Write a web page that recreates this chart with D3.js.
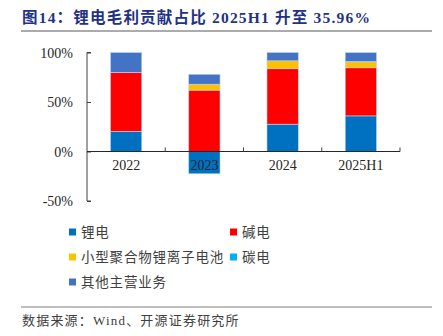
<!DOCTYPE html>
<html>
<head>
<meta charset="utf-8">
<script src="https://cdn.jsdelivr.net/npm/d3@7"></script>
<style>
  body { margin: 0; background: #fff; }
  svg { display: block; }
</style>
</head>
<body>
<svg id="chart"></svg>
<script>
// categories and series
const years = ["2022", "2023", "2024", "2025H1"];
const seriesNames = ["锂电", "碱电", "小型聚合物锂离子电池", "碳电", "其他主营业务"];
const seriesColors = ["#0070C0", "#FF0000", "#FFC000", "#00B0F0", "#4472C4"];

const lithium = [20.2, -22.5, 27.6, 35.96];
const alkaline = [59.8, 62.0, 56.0, 48.6];
const polymer = [0, 6.0, 8.0, 6.0];
const carbon = [0, 0, 0, 0.4];
const other = [20.0, 10.0, 8.4, 9.0];

const yTicks = [-50, 0, 50, 100];

const W = 443, H = 336;
const svg = d3.select("#chart").attr("width", W).attr("height", H);

// title
svg.append("text")
  .attr("x", 22).attr("y", 23)
  .attr("font-family", "'Liberation Serif', 'Noto Sans CJK SC'")
  .attr("font-size", 15.5)
  .attr("font-weight", "bold")
  .attr("letter-spacing", 1.2)
  .attr("fill", "#1F3283")
  .text("图14：锂电毛利贡献占比 2025H1 升至 35.96%");

svg.append("line")
  .attr("x1", 21).attr("x2", 432).attr("y1", 31).attr("y2", 31)
  .attr("stroke", "#595959").attr("stroke-width", 1);

// scales
const x = d3.scaleBand().domain(years).range([87, 400]).paddingInner(0.6).paddingOuter(0.3);
const y = d3.scaleLinear().domain([-50, 100]).range([201, 52.5]);

// build stacked segments, negatives stack downward from 0
const series = [lithium, alkaline, polymer, carbon, other];
const segs = [];
years.forEach((yr, i) => {
  let pos = 0, neg = 0;
  series.forEach((s, k) => {
    const v = s[i];
    if (!v) return;
    if (v >= 0) { segs.push({ yr, k, y0: pos, y1: pos + v }); pos += v; }
    else { segs.push({ yr, k, y0: neg + v, y1: neg }); neg += v; }
  });
});

// y axis
const yAxis = svg.append("g").attr("transform", "translate(87,0)")
  .call(d3.axisRight(y).tickValues(yTicks).tickSize(4).tickFormat(""));
yAxis.select(".domain").attr("stroke", "#404040").attr("d", "M4," + y(-50) + "H0V" + y(100) + "H4");
yAxis.selectAll(".tick line").attr("stroke", "#404040");

svg.append("g").selectAll("text").data(yTicks).join("text")
  .attr("x", 73).attr("y", d => y(d) + 5)
  .attr("text-anchor", "end")
  .attr("font-family", "'Liberation Serif', serif")
  .attr("font-size", 14)
  .attr("fill", "#262626")
  .text(d => d + "%");

// bars
svg.append("g").selectAll("rect").data(segs).join("rect")
  .attr("x", d => x(d.yr))
  .attr("width", x.bandwidth())
  .attr("y", d => y(d.y1))
  .attr("height", d => y(d.y0) - y(d.y1))
  .attr("fill", d => seriesColors[d.k])
  .attr("stroke", "#BDD7EE")
  .attr("stroke-width", 0.6);

// x axis at 0, ticks at category boundaries
const bounds = years.map((yr, i) => x(yr) + x.bandwidth() / 2 + x.step() / 2);
svg.append("line")
  .attr("x1", 87).attr("x2", 400).attr("y1", y(0)).attr("y2", y(0))
  .attr("stroke", "#262626").attr("stroke-width", 1);
svg.append("g").selectAll("line").data(bounds).join("line")
  .attr("x1", d => d).attr("x2", d => d)
  .attr("y1", y(0)).attr("y2", y(0) - 4)
  .attr("stroke", "#404040");

svg.append("g").selectAll("text").data(years).join("text")
  .attr("x", d => x(d) + x.bandwidth() / 2)
  .attr("y", y(0) + 18)
  .attr("text-anchor", "middle")
  .attr("font-family", "'Liberation Serif', serif")
  .attr("font-size", 14)
  .attr("fill", "#262626")
  .text(d => d);

// legend
const legendPos = [[69, 232], [230, 232], [69, 257], [230, 257], [69, 282]];
const lg = svg.append("g").selectAll("g").data(seriesNames).join("g")
  .attr("transform", (d, i) => `translate(${legendPos[i][0]},${legendPos[i][1]})`);
lg.append("rect").attr("x", 0).attr("y", -3.5).attr("width", 7).attr("height", 7)
  .attr("fill", (d, i) => seriesColors[i]);
lg.append("text").attr("x", 12).attr("y", 5)
  .attr("font-family", "'Noto Sans CJK SC', sans-serif")
  .attr("font-size", 13.5)
  .attr("letter-spacing", 0.8)
  .attr("fill", "#404040")
  .text(d => d);

// source
svg.append("line")
  .attr("x1", 21).attr("x2", 432).attr("y1", 307).attr("y2", 307)
  .attr("stroke", "#7F7F7F").attr("stroke-width", 1);
svg.append("text")
  .attr("x", 22).attr("y", 325)
  .attr("font-family", "'Liberation Serif', 'Noto Sans CJK SC'")
  .attr("font-size", 13)
  .attr("letter-spacing", 1.2)
  .attr("fill", "#404040")
  .text("数据来源：Wind、开源证券研究所");
</script>
</body>
</html>
